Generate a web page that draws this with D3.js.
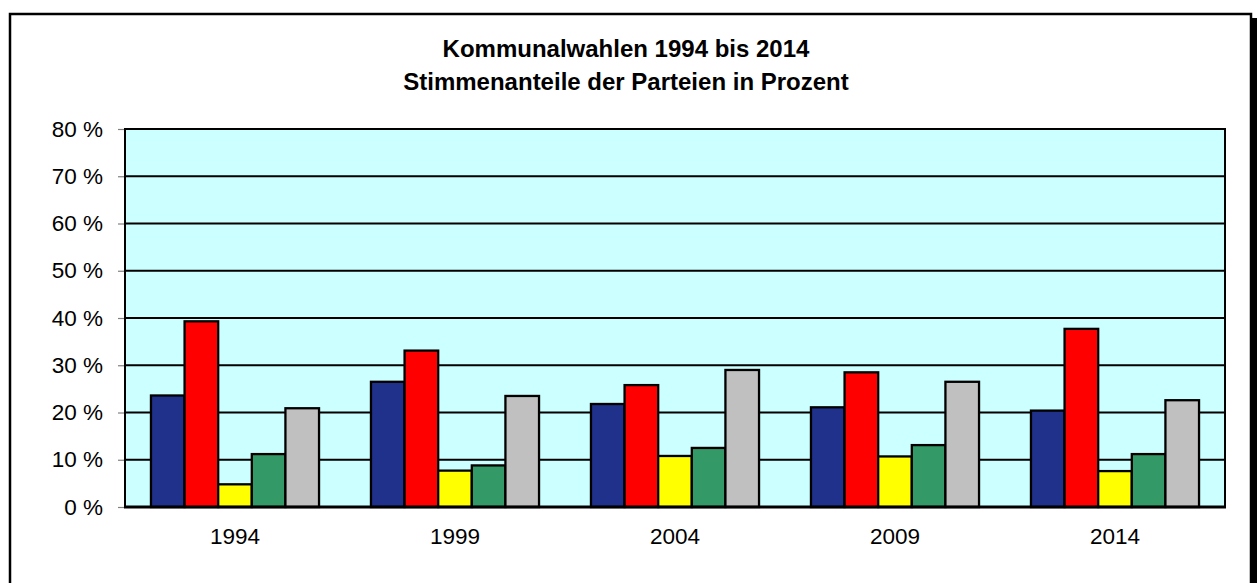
<!DOCTYPE html>
<html>
<head>
<meta charset="utf-8">
<script src="https://cdn.jsdelivr.net/npm/d3@7"></script>
<style>
    body { margin: 0; background: #fff; }
    svg { display: block; font-family: Arial, "Liberation Sans", sans-serif; }
</style>
</head>
<body>
<svg id="chart" width="1257" height="583"></svg>
<script>
// values
const years = ['1994', '1999', '2004', '2009', '2014'];
const parties = ['blau', 'rot', 'gelb', 'gruen', 'grau'];
const blau = [23.6, 26.5, 21.8, 21.1, 20.4];
const rot = [39.3, 33.1, 25.8, 28.5, 37.7];
const gelb = [4.8, 7.7, 10.8, 10.7, 7.6];
const gruen = [11.2, 8.8, 12.5, 13.1, 11.2];
const grau = [20.9, 23.5, 29.0, 26.5, 22.6];
const yTicks = [0, 10, 20, 30, 40, 50, 60, 70, 80];
const titleLines = ['Kommunalwahlen 1994 bis 2014', 'Stimmenanteile der Parteien in Prozent'];

const COLORS = {
    blau: '#1f318a',
    rot: '#ff0000',
    gelb: '#ffff00',
    gruen: '#339966',
    grau: '#c0c0c0'
};

const series = { blau, rot, gelb, gruen, grau };
const dataset = years.map((y, i) => ({
    year: y,
    values: parties.map(p => ({ key: p, value: series[p][i] }))
}));

const PLOT = { left: 125, right: 1225, top: 129, bottom: 507 };

const $svg = d3.select('#chart');

// outer frame with shadow
$svg.append('rect')
    .attr('x', 14).attr('y', 18)
    .attr('width', 1243).attr('height', 600)
    .attr('fill', '#000');
$svg.append('rect')
    .attr('x', 10).attr('y', 14)
    .attr('width', 1241).attr('height', 600)
    .attr('fill', '#fff')
    .attr('stroke', '#000')
    .attr('stroke-width', 2.5);

// title
$svg.append('text')
    .attr('x', 626)
    .attr('text-anchor', 'middle')
    .attr('font-size', 24)
    .attr('font-weight', 'bold')
    .selectAll('tspan')
    .data(titleLines)
    .join('tspan')
    .attr('x', 626)
    .attr('y', (d, i) => 57 + i * 33)
    .text(d => d);

const xScale = d3.scaleBand()
    .domain(years)
    .range([PLOT.left, PLOT.right])
    .paddingInner(0.236)
    .paddingOuter(0.118);

const xInner = d3.scaleBand()
    .domain(parties)
    .range([0, xScale.bandwidth()]);

const yScale = d3.scaleLinear()
    .domain([0, 80])
    .range([PLOT.bottom, PLOT.top]);

// plot background
$svg.append('rect')
    .attr('x', PLOT.left).attr('y', PLOT.top)
    .attr('width', PLOT.right - PLOT.left)
    .attr('height', PLOT.bottom - PLOT.top)
    .attr('fill', '#ccffff');

// gridlines
$svg.append('g')
    .selectAll('line')
    .data(yTicks.filter(d => d > 0 && d < 80))
    .join('line')
    .attr('x1', PLOT.left).attr('x2', PLOT.right)
    .attr('y1', d => yScale(d)).attr('y2', d => yScale(d))
    .attr('stroke', '#000')
    .attr('stroke-width', 1.9);

// y axis
const yAxis = $svg.append('g')
    .attr('transform', `translate(${PLOT.left},0)`)
    .call(d3.axisLeft(yScale).tickValues(yTicks).tickSize(7).tickPadding(15)
        .tickFormat(d => d + ' %'));
yAxis.select('.domain').remove();
yAxis.selectAll('.tick line').attr('stroke', '#808080').attr('stroke-width', 1.2);
yAxis.selectAll('.tick text')
    .attr('font-size', 22.5)
    .attr('font-family', 'Arial, "Liberation Sans", sans-serif')
    .attr('fill', '#000');

// bars
const groups = $svg.append('g')
    .selectAll('g')
    .data(dataset)
    .join('g')
    .attr('transform', d => `translate(${xScale(d.year)},0)`);

groups.selectAll('rect')
    .data(d => d.values)
    .join('rect')
    .attr('x', d => xInner(d.key))
    .attr('y', d => yScale(d.value))
    .attr('width', xInner.bandwidth())
    .attr('height', d => yScale(0) - yScale(d.value))
    .attr('fill', d => COLORS[d.key])
    .attr('stroke', '#000')
    .attr('stroke-width', 2.3);

// plot border (left, top, right) and base line
$svg.append('path')
    .attr('d', `M${PLOT.left},${PLOT.bottom}V${PLOT.top}H${PLOT.right}V${PLOT.bottom}`)
    .attr('fill', 'none')
    .attr('stroke', '#000')
    .attr('stroke-width', 2);
$svg.append('line')
    .attr('x1', PLOT.left - 1).attr('x2', PLOT.right + 1)
    .attr('y1', PLOT.bottom).attr('y2', PLOT.bottom)
    .attr('stroke', '#000')
    .attr('stroke-width', 3);

// x labels
$svg.append('g')
    .selectAll('text')
    .data(years)
    .join('text')
    .attr('x', d => xScale(d) + xScale.bandwidth() / 2)
    .attr('y', 544)
    .attr('text-anchor', 'middle')
    .attr('font-size', 22.5)
    .text(d => d);
</script>
</body>
</html>
